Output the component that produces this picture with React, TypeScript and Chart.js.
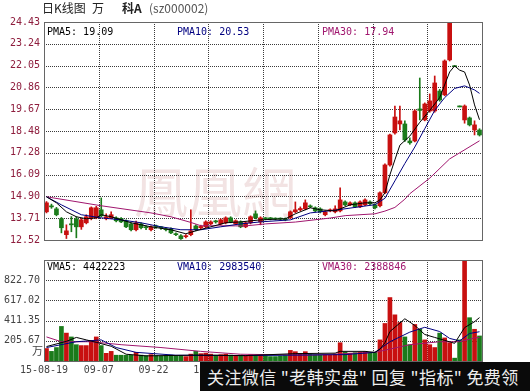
import React, { useEffect, useRef } from "react";
import { Chart, registerables } from "chart.js";
Chart.register(...registerables);

// ---------- data ----------
const opens = [14.06,14.38,14.22,13.68,12.81,13.38,13.68,13.24,13.46,13.73,
13.73,14.17,13.68,13.73,13.73,13.70,13.57,13.40,13.08,13.40,
13.21,13.08,13.26,13.21,13.10,13.13,12.84,12.75,12.70,12.81,
13.29,13.19,13.24,13.40,13.53,13.40,13.46,13.73,13.40,13.51,
13.24,13.46,13.95,13.51,13.70,13.70,13.70,13.68,13.68,13.73,
14.06,14.17,14.22,14.36,14.28,14.22,13.90,14.11,14.06,14.11,
14.60,14.44,14.55,14.33,14.44,14.60,14.44,14.39,15.10,16.62,
18.37,18.86,18.86,17.93,17.93,19.68,19.08,19.57,19.57,20.66,
20.45,22.36,21.99,19.79,19.08,19.19,18.53,18.53];
const highs = [14.62,14.48,14.30,13.75,13.35,13.80,13.79,13.70,13.90,14.33,
14.36,14.82,13.95,14.06,13.79,13.75,13.62,13.46,13.55,13.46,
13.29,13.29,13.33,13.26,13.19,13.19,12.91,12.81,12.81,14.17,
13.35,13.33,13.57,13.57,13.60,13.68,13.79,13.79,13.62,13.57,
13.51,13.84,14.11,13.79,13.75,13.75,13.73,13.73,13.73,14.11,
14.60,14.33,14.71,14.44,14.33,14.28,14.11,14.22,14.39,15.37,
14.66,14.60,14.60,14.66,14.77,14.66,14.50,15.15,16.68,18.30,
19.84,19.84,19.03,18.10,19.63,21.37,20.01,20.50,21.48,20.75,
22.36,24.43,21.99,19.79,19.90,19.24,19.03,18.60];
const lows = [14.00,14.25,13.84,12.91,12.60,12.97,12.64,13.10,13.40,13.62,
13.68,13.79,13.62,13.68,13.51,13.46,13.19,13.02,13.02,13.13,
13.08,13.02,13.15,13.10,13.02,12.86,12.75,12.55,12.64,12.75,
13.02,13.13,13.19,13.35,13.44,13.35,13.40,13.46,13.35,13.19,
13.19,13.40,13.68,13.35,13.62,13.62,13.62,13.60,13.57,13.68,
14.00,14.11,14.17,14.28,14.06,14.00,13.84,14.06,14.00,14.06,
14.39,14.39,14.28,14.28,14.39,14.44,14.22,14.33,15.05,16.55,
18.30,18.53,17.90,17.75,17.88,19.08,19.03,19.50,19.50,20.10,
20.40,22.30,21.99,19.79,18.90,18.75,18.26,18.20];
const closes = [14.55,14.33,13.90,13.19,13.02,13.35,13.24,13.62,13.79,14.28,
14.28,13.84,13.79,13.90,13.57,13.51,13.24,13.08,13.46,13.19,
13.19,13.24,13.24,13.19,13.08,12.91,12.81,12.59,12.75,13.02,
13.08,13.26,13.51,13.51,13.51,13.62,13.73,13.51,13.57,13.24,
13.46,13.79,13.73,13.73,13.68,13.68,13.66,13.66,13.62,14.06,
14.17,14.24,14.55,14.33,14.11,14.06,14.06,14.17,14.22,14.71,
14.44,14.55,14.33,14.60,14.71,14.50,14.28,15.10,16.62,18.26,
19.24,19.03,17.99,17.83,19.57,19.60,19.95,20.12,21.10,20.17,
22.30,24.43,21.99,19.79,19.84,18.81,18.81,18.26];
const volumes = [127,98,137,352,284,245,166,157,157,206,
245,157,78,98,59,59,59,59,88,60,
55,65,55,50,55,60,50,55,45,70,
98,75,80,70,60,65,70,60,55,60,
55,65,60,55,50,45,45,50,55,108,
95,75,95,70,65,60,65,60,70,186,
90,80,85,90,95,80,88,215,382,646,
470,392,245,166,372,323,215,166,137,284,
235,186,29,215,1028,441,323,255];

// moving-average lines read at [candle index, value]
const pma5 = [[0,14.88],[2,14.55],[4,14.06],[6,13.79],[8,13.68],[10,13.73],[11,13.9],[13,13.79],[17,13.46],[21,13.24],[25,13.08],[28,12.86],[30,13.02],[33,13.24],[36,13.46],[39,13.51],[43,13.62],[48,13.68],[50,13.95],[53,14.28],[55,14.17],[58,14.11],[61,14.44],[64,14.55],[66,14.55],[67,14.71],[68,15.1],[69,16.08],[70,16.9],[71,17.7],[73,18.2],[75,18.95],[77,19.6],[79,20.3],[81,21.7],[82,22.03],[83,21.8],[84,21.7],[85,20.99],[86,19.9],[87,19.09]];
const pma10 = [[0,14.88],[3,14.44],[7,13.9],[11,13.73],[15,13.62],[19,13.46],[23,13.24],[27,13.08],[31,13.08],[35,13.24],[39,13.4],[43,13.51],[49,13.62],[53,14.0],[58,14.15],[66,14.45],[68,14.8],[70,15.75],[72,16.7],[74,17.6],[76,18.6],[78,19.6],[80,20.3],[82,20.8],[84,20.94],[86,20.72],[87,20.53]];
const pma30 = [[0,14.88],[11,14.39],[21,14.0],[25,13.79],[29,13.48],[31,13.3],[38,13.29],[40,13.29],[44,13.4],[50,13.5],[57,13.72],[60,13.85],[66,13.95],[68,14.1],[70,14.3],[72,14.75],[73,15.05],[77,15.9],[81,16.95],[87,17.94]];
const vma5 = [[0,147],[4,200],[6,240],[8,215],[10,190],[13,150],[16,69],[20,52],[30,60],[40,55],[50,75],[58,80],[59,98],[64,98],[66,88],[67,120],[68,186],[69,300],[72,430],[74,362],[76,270],[78,240],[80,210],[82,180],[84,340],[86,400],[87,442]];
const vma10 = [[0,137],[6,196],[11,215],[14,137],[18,88],[26,59],[40,55],[60,65],[66,88],[69,196],[73,294],[76,343],[79,300],[81,230],[83,205],[85,280],[87,298]];
const vma30 = [[0,245],[3,196],[9,196],[15,166],[23,137],[31,98],[39,69],[53,59],[66,88],[73,166],[79,196],[83,196],[86,235],[87,239]];

const priceTicks = [12.52, 13.71, 14.90, 16.09, 17.28, 18.48, 19.67, 20.86, 22.05, 23.24, 24.43];
const volumeTicks = [205.67, 411.35, 617.02, 822.70];
const volumeMax = 1028.35;
const dateTicks = ["15-08-19", "09-07", "09-22", "10-14", "10-29", "11-12", "11-26", "12-10"];
const priceLegend = ["PMA5: 19.09", "PMA10: 20.53", "PMA30: 17.94"];
const volumeLegend = ["VMA5: 4422223", "VMA10: 2983540", "VMA30: 2388846"];
const volumeUnit = "万";
const titleParts = ["日K线图", "万", "科A", "(sz000002)"];
const watermarkText = "鳳凰網";
const bannerText = '关注微信 "老韩实盘" 回复 "指标" 免费领';

// ---------- styles ----------
const RED = "#c81010";
const GREEN = "#1b7b1b";
const MA_COLORS = ["#000000", "#000080", "#a0166e"];
const MONO = '"DejaVu Sans Mono", monospace';
const GROUP = 11;

const N = closes.length;
const categories = closes.map((_, i) => String(i));
const sparse = (pts: number[][]) => {
  const a: (number | null)[] = new Array(N).fill(null);
  pts.forEach(([i, v]) => { a[i] = v; });
  return a;
};
const candleColors = closes.map((c, i) => (c > opens[i] ? RED : GREEN));

const lineDs = (data: number[][], color: string) => ({
  type: "line" as const,
  data: sparse(data),
  borderColor: color,
  borderWidth: 1,
  pointRadius: 0,
  spanGaps: true,
  tension: 0,
  order: 0,
});

function boundaryX(x: any, k: number, left: number) {
  if (k === 0) return left;
  return (x.getPixelForValue(k * GROUP - 1) + x.getPixelForValue(k * GROUP)) / 2;
}

function framePlugin(legend: string[], legendY: number, isPrice: boolean) {
  return {
    id: "frame" + (isPrice ? "P" : "V"),
    beforeDatasetsDraw(chart: any) {
      const { ctx, chartArea: a, scales } = chart;
      ctx.save();
      if (isPrice) {
        ctx.font = '54px "Noto Sans CJK TC", sans-serif';
        ctx.fillStyle = "rgba(200,140,140,0.24)";
        ctx.textBaseline = "middle";
        ctx.textAlign = "left";
        ctx.fillText(watermarkText, 134, 192);
      }
      ctx.strokeStyle = "#3a3a3a";
      ctx.lineWidth = 1;
      ctx.setLineDash([1, 1]);
      scales.y.ticks.forEach((t: any) => {
        const py = Math.round(scales.y.getPixelForValue(t.value)) + 0.5;
        if (py > a.top + 2 && py < a.bottom - 2) {
          ctx.beginPath();
          ctx.moveTo(a.left, py);
          ctx.lineTo(a.right, py);
          ctx.stroke();
        }
      });
      for (let k = 1; k * GROUP < N; k++) {
        const px = Math.round(boundaryX(scales.x, k, a.left)) + 0.5;
        ctx.beginPath();
        ctx.moveTo(px, a.top);
        ctx.lineTo(px, a.bottom);
        ctx.stroke();
      }
      ctx.restore();
    },
    afterDatasetsDraw(chart: any) {
      const { ctx, chartArea: a, scales } = chart;
      ctx.save();
      ctx.strokeStyle = "#666";
      ctx.lineWidth = 1;
      ctx.setLineDash([]);
      ctx.strokeRect(Math.round(a.left) + 0.5, Math.round(a.top) + 0.5, Math.round(a.right - a.left), Math.round(a.bottom - a.top));
      ctx.font = "10px " + MONO;
      ctx.textBaseline = "middle";
      ctx.textAlign = "left";
      const xs = [47, 177, 322];
      legend.forEach((txt, i) => {
        ctx.fillStyle = MA_COLORS[i];
        ctx.fillText(txt, xs[i], legendY);
      });
      if (!isPrice) {
        ctx.fillStyle = "#444";
        ctx.font = '11px "Noto Sans CJK SC", sans-serif';
        ctx.textAlign = "right";
        ctx.fillText(volumeUnit, 43, 101);
        ctx.font = "10px " + MONO;
        ctx.textAlign = "center";
        dateTicks.forEach((d, k) => {
          if (k * GROUP < N) ctx.fillText(d, boundaryX(scales.x, k, a.left), 120);
        });
      }
      ctx.restore();
    },
  };
}

function yScale(min: number, max: number, ticks: number[], color: string) {
  return {
    min,
    max,
    afterBuildTicks: (s: any) => { s.ticks = ticks.map((v) => ({ value: v })); },
    afterFit: (s: any) => { s.width = 44; },
    grid: { display: false, drawTicks: false },
    border: { display: false },
    ticks: {
      autoSkip: false,
      padding: 4,
      color,
      font: { family: MONO, size: 10 },
      callback: (v: any) => Number(v).toFixed(2),
    },
  };
}

const common = {
  responsive: false,
  maintainAspectRatio: false,
  animation: false as const,
  devicePixelRatio: 1,
  events: [] as any[],
  plugins: { legend: { display: false }, tooltip: { enabled: false } },
};

export default function App() {
  const priceRef = useRef<HTMLCanvasElement>(null);
  const volRef = useRef<HTMLCanvasElement>(null);

  useEffect(() => {
    const pc = new Chart(priceRef.current as HTMLCanvasElement, {
      type: "bar",
      data: {
        labels: categories,
        datasets: [
          lineDs(pma5, MA_COLORS[0]),
          lineDs(pma10, MA_COLORS[1]),
          lineDs(pma30, MA_COLORS[2]),
          {
            type: "bar",
            data: lows.map((l, i) => [l, highs[i]]),
            backgroundColor: candleColors,
            barThickness: 1,
            grouped: false,
            minBarLength: 1,
            borderWidth: 0,
            order: 2,
          } as any,
          {
            type: "bar",
            data: opens.map((o, i) => [o, closes[i]]),
            backgroundColor: candleColors,
            barThickness: 4,
            grouped: false,
            minBarLength: 1,
            borderWidth: 0,
            order: 1,
          } as any,
        ],
      },
      options: {
        ...common,
        layout: { padding: { left: 0, right: 48, top: 22, bottom: 8.5 } },
        scales: {
          x: { type: "category", display: false, offset: true, grid: { display: false } },
          y: yScale(priceTicks[0], priceTicks[priceTicks.length - 1], priceTicks, "#8e1d3d"),
        },
      } as any,
      plugins: [framePlugin(priceLegend, 32, true)],
    });

    const vc = new Chart(volRef.current as HTMLCanvasElement, {
      type: "bar",
      data: {
        labels: categories,
        datasets: [
          lineDs(vma5, MA_COLORS[0]),
          lineDs(vma10, MA_COLORS[1]),
          lineDs(vma30, MA_COLORS[2]),
          {
            type: "bar",
            data: volumes,
            backgroundColor: candleColors,
            barThickness: 4,
            grouped: false,
            borderWidth: 0,
            order: 1,
          } as any,
        ],
      },
      options: {
        ...common,
        layout: { padding: { left: 0, right: 48, top: 7, bottom: 30 } },
        scales: {
          x: { type: "category", display: false, offset: true, grid: { display: false } },
          y: yScale(0, volumeMax, volumeTicks, "#444"),
        },
      } as any,
      plugins: [framePlugin(volumeLegend, 17, false)],
    });

    return () => {
      pc.destroy();
      vc.destroy();
    };
  }, []);

  const titleX = [42, 92, 122, 149];
  const titleColors = ["#222", "#222", "#222", "#555"];

  return (
    <div style={{ position: "absolute", left: 0, top: 0, width: 530, height: 391, background: "#fff", overflow: "hidden" }}>
      <canvas ref={priceRef} width={530} height={250} style={{ position: "absolute", left: 0, top: 0, width: 530, height: 250 }} />
      <canvas ref={volRef} width={530} height={141} style={{ position: "absolute", left: 0, top: 250, width: 530, height: 141 }} />
      {titleParts.map((t, i) => (
        <span
          key={i}
          style={{
            position: "absolute",
            left: titleX[i],
            top: 0,
            fontFamily: '"Noto Sans CJK SC", sans-serif',
            fontSize: 12,
            lineHeight: "16px",
            color: titleColors[i],
            fontWeight: i === 2 ? 700 : 400,
            whiteSpace: "nowrap",
          }}
        >
          {t}
        </span>
      ))}
      <div
        style={{
          position: "absolute",
          left: 200,
          top: 362,
          width: 330,
          height: 29,
          background: "#0a0a0a",
          color: "#eeeeee",
          fontFamily: '"Noto Sans CJK SC", sans-serif',
          fontSize: 17,
          letterSpacing: 0.4,
          lineHeight: "29px",
          paddingLeft: 7,
          boxSizing: "border-box",
          whiteSpace: "pre",
          overflow: "hidden",
        }}
      >
        {bannerText}
      </div>
    </div>
  );
}
